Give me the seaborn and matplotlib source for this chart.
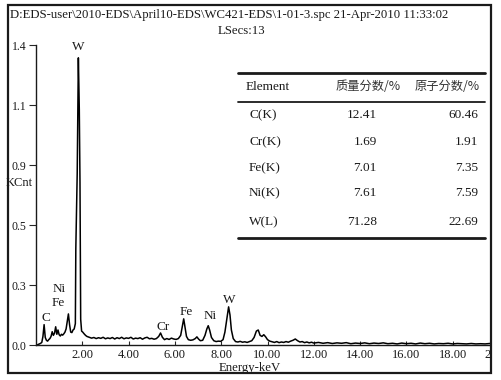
import matplotlib
matplotlib.use("Agg")
import matplotlib.pyplot as plt
from matplotlib.lines import Line2D
from matplotlib.patches import Rectangle
import seaborn as sns

# --- spectrum (keV, KCnt) ---
energy = [
    0.00, 0.05, 0.10, 0.15, 0.20, 0.25, 0.30, 0.35, 0.40, 0.45,
    0.50, 0.55, 0.60, 0.65, 0.70, 0.75, 0.80, 0.85, 0.90, 0.95,
    1.00, 1.05, 1.10, 1.15, 1.20, 1.25, 1.30, 1.35, 1.40, 1.45,
    1.50, 1.55, 1.60, 1.65, 1.70, 1.72, 1.78, 1.83, 1.87, 1.90,
    1.93, 1.97, 2.02, 2.08, 2.14, 2.20, 2.30, 2.40, 2.50, 2.60,
    2.70, 2.80, 2.90, 3.00, 3.10, 3.20, 3.30, 3.40, 3.50, 3.60,
    3.70, 3.80, 3.90, 4.00, 4.10, 4.20, 4.30, 4.40, 4.50, 4.60,
    4.70, 4.80, 4.90, 5.00, 5.10, 5.20, 5.30, 5.38, 5.46, 5.55,
    5.65, 5.75, 5.85, 5.95, 6.05, 6.15, 6.25, 6.32, 6.38, 6.44,
    6.50, 6.58, 6.68, 6.78, 6.88, 6.95, 7.02, 7.10, 7.20, 7.30,
    7.38, 7.44, 7.50, 7.58, 7.68, 7.78, 7.88, 7.98, 8.08, 8.16,
    8.24, 8.32, 8.38, 8.44, 8.52, 8.62, 8.72, 8.82, 8.92, 9.02,
    9.12, 9.22, 9.32, 9.42, 9.52, 9.60, 9.68, 9.76, 9.84, 9.92,
    10.0, 10.1, 10.2, 10.3, 10.4, 10.5, 10.6, 10.7, 10.8, 10.9,
    11.0, 11.1, 11.2, 11.3, 11.4, 11.5, 11.6, 11.7, 11.8, 11.9,
    12.0, 12.2, 12.4, 12.6, 12.8, 13.0, 13.2, 13.4, 13.6, 13.8,
    14.0, 14.2, 14.4, 14.6, 14.8, 15.0, 15.2, 15.4, 15.6, 15.8,
    16.0, 16.2, 16.4, 16.6, 16.8, 17.0, 17.2, 17.4, 17.6, 17.8,
    18.0, 18.2, 18.4, 18.6, 18.8, 19.0, 19.2, 19.4, 19.6, 19.8, 20.0,
]
kcnt = [
    0.000, 0.000, 0.003, 0.005, 0.008, 0.012, 0.040, 0.095, 0.035, 0.022,
    0.018, 0.025, 0.030, 0.040, 0.062, 0.045, 0.055, 0.085, 0.050, 0.070,
    0.048, 0.042, 0.050, 0.046, 0.052, 0.060, 0.075, 0.110, 0.145, 0.095,
    0.060, 0.058, 0.070, 0.075, 0.100, 0.450, 0.800, 1.340, 1.100, 0.760,
    0.120, 0.065, 0.060, 0.052, 0.045, 0.040, 0.036, 0.032, 0.035, 0.030,
    0.034, 0.031, 0.036, 0.029, 0.033, 0.030, 0.035, 0.028, 0.034, 0.030,
    0.036, 0.029, 0.033, 0.031, 0.036, 0.028, 0.032, 0.030, 0.034, 0.027,
    0.033, 0.036, 0.029, 0.031, 0.027, 0.030, 0.040, 0.056, 0.036, 0.025,
    0.030, 0.026, 0.032, 0.028, 0.026, 0.030, 0.045, 0.085, 0.122, 0.080,
    0.040, 0.025, 0.022, 0.024, 0.030, 0.038, 0.028, 0.020, 0.022, 0.045,
    0.075, 0.090, 0.070, 0.035, 0.020, 0.016, 0.018, 0.017, 0.025, 0.060,
    0.120, 0.178, 0.140, 0.070, 0.030, 0.016, 0.014, 0.017, 0.013, 0.015,
    0.012, 0.016, 0.020, 0.035, 0.065, 0.070, 0.045, 0.040, 0.048, 0.038,
    0.025, 0.018, 0.015, 0.012, 0.016, 0.011, 0.014, 0.012, 0.016, 0.013,
    0.018, 0.022, 0.028, 0.020, 0.014, 0.016, 0.011, 0.014, 0.010, 0.013,
    0.009, 0.012, 0.008, 0.011, 0.007, 0.010, 0.008, 0.011, 0.006, 0.009,
    0.007, 0.010, 0.006, 0.009, 0.007, 0.010, 0.006, 0.008, 0.005, 0.009,
    0.006, 0.008, 0.005, 0.009, 0.006, 0.008, 0.005, 0.007, 0.006, 0.008,
    0.005, 0.007, 0.006, 0.005, 0.007, 0.005, 0.006, 0.005, 0.007, 0.005, 0.006,
]

# peak labels
peak_names = ["C", "Ni", "Fe", "W", "Cr", "Fe", "Ni", "W"]
peak_pos = [(0.45, 0.126), (1.00, 0.261), (0.97, 0.196), (1.81, 1.39),
            (5.50, 0.084), (6.50, 0.154), (7.53, 0.135), (8.35, 0.210)]

# axis ticks
ytick_vals = [0.0, 0.28, 0.56, 0.84, 1.12, 1.40]
ytick_text = ["0.0", "0.3", "0.5", "0.9", "1.1", "1.4"]
xtick_vals = [2, 4, 6, 8, 10, 12, 14, 16, 18, 20]
xtick_text = ["2.00", "4.00", "6.00", "8.00", "10.00", "12.00", "14.00", "16.00", "18.00", "20.00"]

# composition table
elements = ["C(K)", "Cr(K)", "Fe(K)", "Ni(K)", "W(L)"]
mass_pct = ["12.41", "1.69", "7.01", "7.61", "71.28"]
atom_pct = ["60.46", "1.91", "7.35", "7.59", "22.69"]

sns.set_style("ticks")
plt.rcParams['font.family'] = ['Liberation Serif', 'Noto Sans CJK SC', 'DejaVu Sans']

W, H = 501, 380
fig = plt.figure(figsize=(W / 100, H / 100), dpi=100)
ink = "#1a1a1a"
cjk = ['Noto Sans CJK SC', 'DejaVu Sans']

def fx(px):
    return px / W

def fy(py):
    return 1 - py / H

ax = fig.add_axes([fx(36), fy(345), (499 - 36) / W, 300 / H])
sns.lineplot(x=energy, y=kcnt, ax=ax, color="black", linewidth=1.1)
ax.set_xlim(0, 20)
ax.set_ylim(0, 1.4)
ax.set_yticks(ytick_vals)
ax.set_yticklabels(ytick_text, fontsize=8.5, color=ink)
ax.set_xticks(xtick_vals)
ax.set_xticklabels(xtick_text, fontsize=9, color=ink)
ax.tick_params(axis="y", direction="out", length=5, width=0.8, pad=2)
ax.tick_params(axis="x", direction="in", length=3, width=0.8, pad=3)
sns.despine(ax=ax, top=True, right=True)
for s in ("left", "bottom"):
    ax.spines[s].set_linewidth(1.0)
    ax.spines[s].set_color(ink)
ax.set_xlabel("")
ax.set_ylabel("")

for name, (ex, ey) in zip(peak_names, peak_pos):
    ax.text(ex, ey, name, ha="center", va="center", fontsize=9.5, color=ink, clip_on=False)

# header texts
fig.text(fx(10), fy(15), r"D:EDS-user\2010-EDS\April10-EDS\WC421-EDS\1-01-3.spc 21-Apr-2010 11:33:02",
         ha="left", va="center", fontsize=9.2, color=ink)
fig.text(fx(242), fy(31), "LSecs:13", ha="center", va="center", fontsize=9.2, color=ink)
fig.text(fx(6), fy(183), "KCnt", ha="left", va="center", fontsize=9, color=ink)
fig.text(fx(250), fy(368), "Energy-keV", ha="center", va="center", fontsize=9.2, color=ink)

# table
tx0, tx1 = 238, 485
for py, lw in ((73, 2.0), (102, 1.3), (238, 2.0)):
    fig.add_artist(Line2D([fx(tx0), fx(tx1)], [fy(py), fy(py)], color=ink, linewidth=lw))
fig.text(fx(246), fy(87), "Element", ha="left", va="center", fontsize=9.5, color=ink)
fig.text(fx(368), fy(87), "质量分数/%", ha="center", va="center", fontsize=8.8, color="#333333",
         family=cjk, fontweight="light")
fig.text(fx(447), fy(87), "原子分数/%", ha="center", va="center", fontsize=8.8, color="#333333",
         family=cjk, fontweight="light")
row_y = [115, 142, 168, 193, 222]
for py, el, m, a in zip(row_y, elements, mass_pct, atom_pct):
    fig.text(fx(249), fy(py), el, ha="left", va="center", fontsize=9.5, color=ink)
    fig.text(fx(377), fy(py), m, ha="right", va="center", fontsize=9.5, color=ink)
    fig.text(fx(478), fy(py), a, ha="right", va="center", fontsize=9.5, color=ink)

# outer frame, chart clipped at the right edge
fig.add_artist(Rectangle((fx(491.5), 0), 1 - fx(491.5), 1, transform=fig.transFigure,
                         facecolor="white", edgecolor="none", zorder=10))
fig.add_artist(Rectangle((fx(8), fy(373)), fx(491) - fx(8), fy(5) - fy(373), transform=fig.transFigure,
                         facecolor="none", edgecolor=ink, linewidth=1.6, zorder=11))

fig.savefig("out.png", dpi=100)
